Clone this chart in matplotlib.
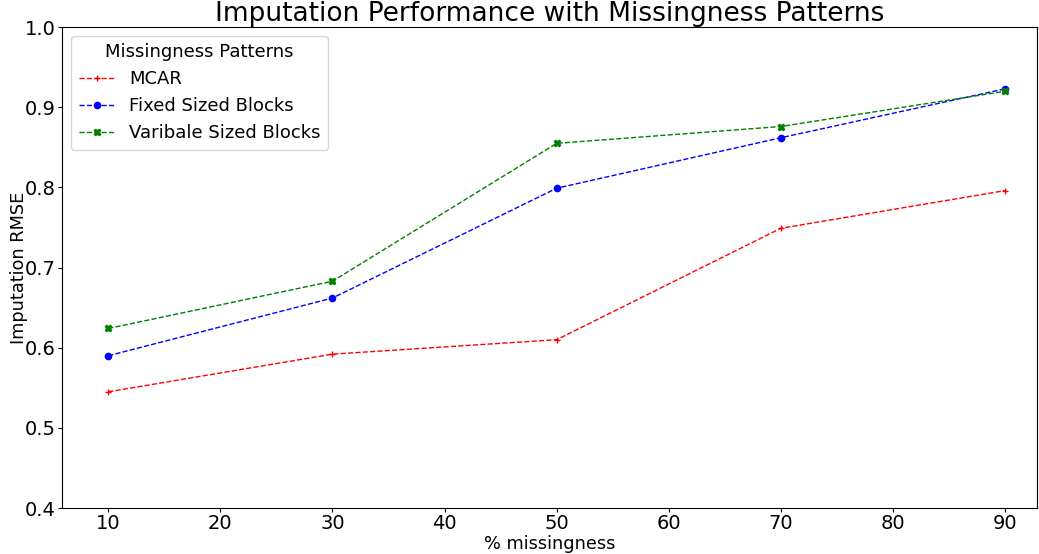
import matplotlib
matplotlib.use("Agg")
import matplotlib.pyplot as plt

missingness = [10, 30, 50, 70, 90]
mcar = [0.545, 0.592, 0.610, 0.749, 0.796]
fixed_blocks = [0.590, 0.662, 0.799, 0.862, 0.923]
variable_blocks = [0.624, 0.683, 0.855, 0.876, 0.920]

fig, ax = plt.subplots(figsize=(10.39, 5.54), dpi=100)
fig.subplots_adjust(left=0.06, right=0.998, top=0.951, bottom=0.083)

ax.plot(missingness, mcar, "r--", marker="+", markersize=5, linewidth=1, label="MCAR")
ax.plot(missingness, fixed_blocks, "b--", marker="o", markersize=4.5, linewidth=1,
        label="Fixed Sized Blocks")
ax.plot(missingness, variable_blocks, "g--", marker="X", markersize=5, linewidth=1,
        label="Varibale Sized Blocks")

ax.set_ylim(0.4, 1.0)
ax.set_xlim(5.9, 92.85)
ax.set_xticks([10, 20, 30, 40, 50, 60, 70, 80, 90])
ax.tick_params(axis="both", labelsize=14, length=3, pad=1.5)
ax.set_xlabel("% missingness", fontsize=12.8, labelpad=1)
ax.set_ylabel("Imputation RMSE", fontsize=12.8, labelpad=-2)
ax.set_title("Imputation Performance with Missingness Patterns", fontsize=19, pad=3)

ax.legend(title="Missingness Patterns", fontsize=13, title_fontsize=13, loc="upper left")

fig.savefig("out.png", dpi=100)
